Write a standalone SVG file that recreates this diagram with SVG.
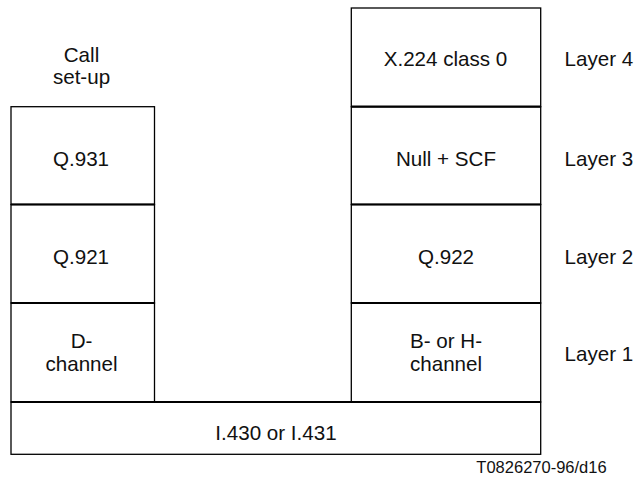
<svg xmlns="http://www.w3.org/2000/svg" width="637" height="477" viewBox="0 0 637 477">
<style>
  .box { fill: #ffffff; stroke: #000000; stroke-width: 1.3; }
  .div { stroke: #000000; stroke-width: 2.2; }
  text { font-family: "Liberation Sans", Arial, sans-serif; font-size: 20.6px; fill: #111111; }
  .c { text-anchor: middle; }
  .lbl { text-anchor: start; }
  .ref { font-size: 16.5px; text-anchor: middle; }
</style>
<rect width="637" height="477" fill="#ffffff"/>
<g id="call-setup-label">
  <text class="c" x="81.5" y="62">Call</text>
  <text class="c" x="81.5" y="84">set-up</text>
</g>
<g id="q931">
  <rect class="box" x="11" y="106.7" width="143.5" height="97.8"/>
  <text class="c" x="81" y="165.5">Q.931</text>
</g>
<g id="q921">
  <rect class="box" x="11" y="204.5" width="143.5" height="98.5"/>
  <line class="div" x1="11" y1="204.5" x2="154.5" y2="204.5"/>
  <text class="c" x="81" y="263.5">Q.921</text>
</g>
<g id="d-channel">
  <rect class="box" x="11" y="303" width="143.5" height="99"/>
  <line class="div" x1="11" y1="303" x2="154.5" y2="303"/>
  <text class="c" x="81.5" y="348">D-</text>
  <text class="c" x="81.5" y="371">channel</text>
</g>
<g id="x224">
  <rect class="box" x="351.3" y="8" width="189.4" height="98.7"/>
  <text class="c" x="445.5" y="65.5">X.224 class 0</text>
</g>
<g id="null-scf">
  <rect class="box" x="351.3" y="106.7" width="189.4" height="97.8"/>
  <line class="div" x1="351.3" y1="106.7" x2="540.7" y2="106.7"/>
  <text class="c" x="446" y="165.5">Null + SCF</text>
</g>
<g id="q922">
  <rect class="box" x="351.3" y="204.5" width="189.4" height="98.5"/>
  <line class="div" x1="351.3" y1="204.5" x2="540.7" y2="204.5"/>
  <text class="c" x="446" y="263.5">Q.922</text>
</g>
<g id="bh-channel">
  <rect class="box" x="351.3" y="303" width="189.4" height="99"/>
  <line class="div" x1="351.3" y1="303" x2="540.7" y2="303"/>
  <text class="c" x="446" y="348">B- or H-</text>
  <text class="c" x="446" y="371">channel</text>
</g>
<g id="i430">
  <rect class="box" x="11" y="402" width="529.7" height="52.3"/>
  <line class="div" x1="11" y1="402" x2="540.7" y2="402"/>
  <text class="c" x="276" y="440">I.430 or I.431</text>
</g>
<g id="layer-labels">
  <text class="lbl" x="564.5" y="65.5">Layer 4</text>
  <text class="lbl" x="564.5" y="165.5">Layer 3</text>
  <text class="lbl" x="564.5" y="263.5">Layer 2</text>
  <text class="lbl" x="564.5" y="361">Layer 1</text>
</g>
<g id="connectors"></g>
<g id="figure-ref">
  <text class="ref" x="541.5" y="473">T0826270-96/d16</text>
</g>
</svg>
